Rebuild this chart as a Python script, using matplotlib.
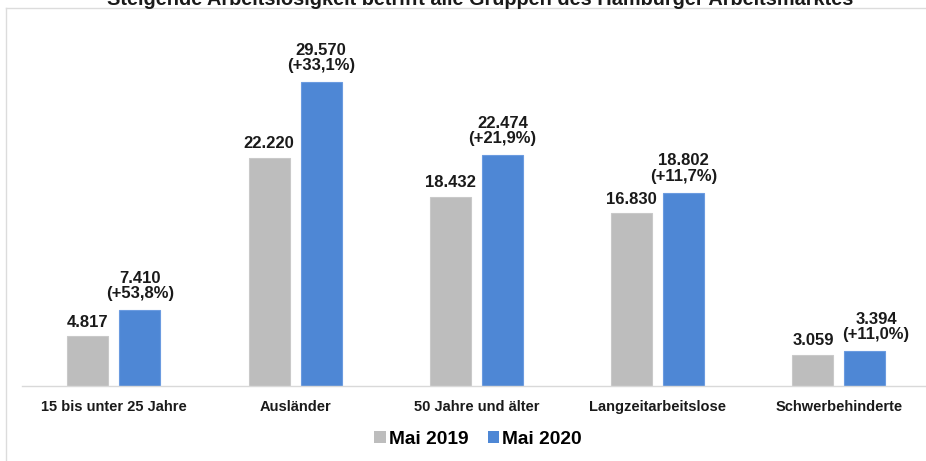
import matplotlib
matplotlib.use("Agg")
import matplotlib.pyplot as plt
from matplotlib.lines import Line2D
import numpy as np

plt.rcParams['font.family'] = ['Liberation Sans', 'DejaVu Sans']
plt.rcParams['font.weight'] = 'bold'

title = "Steigende Arbeitslosigkeit betrifft alle Gruppen des Hamburger Arbeitsmarktes"
categories = ["15 bis unter 25 Jahre", "Ausländer", "50 Jahre und älter",
              "Langzeitarbeitslose", "Schwerbehinderte"]
series_names = ["Mai 2019", "Mai 2020"]
values_2019 = [4817, 22220, 18432, 16830, 3059]
values_2020 = [7410, 29570, 22474, 18802, 3394]
change_pct = ["+53,8%", "+33,1%", "+21,9%", "+11,7%", "+11,0%"]

def de_num(v):
    return f"{v:,}".replace(",", ".")

W, H = 926, 461
fig = plt.figure(figsize=(W / 100, H / 100), dpi=100)
fig.patch.set_facecolor("white")

ax_left, ax_right, ax_bottom, ax_top = 22, 926, 386, 20
ax = fig.add_axes([ax_left / W, 1 - ax_bottom / H,
                   (ax_right - ax_left) / W, (ax_bottom - ax_top) / H])

gray = "#bdbdbd"
blue = "#4e87d5"
x = np.arange(len(categories))
off = 0.1434
bw = 0.226
b1 = ax.bar(x - off, values_2019, width=bw, color=gray, edgecolor="#c9c9c9",
            linewidth=0.8, label=series_names[0], zorder=2)
b2 = ax.bar(x + off, values_2020, width=bw, color=blue, edgecolor="#6b9be0",
            linewidth=0.8, label=series_names[1], zorder=2)

ax.set_xlim(-0.506, 4.48)
ax.set_ylim(0, 35600)

for xi, v in zip(x, values_2019):
    ax.annotate(de_num(v), (xi - off, v), xytext=(0, 4.6), textcoords="offset points",
                ha="center", va="bottom", fontsize=12, fontweight="bold", color="#1a1a1a")
# last label is nudged to the right in the reference to avoid overlap
nudge = [0, 0, 0, 0, 8]
for xi, v, p, dx in zip(x, values_2020, change_pct, nudge):
    ax.annotate(f"{de_num(v)}\n({p})", (xi + off, v), xytext=(dx, 6.2),
                textcoords="offset points", ha="center", va="bottom",
                fontsize=12, fontweight="bold", color="#1a1a1a", linespacing=1.05)

for s in ["top", "right", "left"]:
    ax.spines[s].set_visible(False)
ax.spines["bottom"].set_color("#d9d9d9")
ax.spines["bottom"].set_linewidth(1.0)
ax.set_yticks([])
ax.set_xticks(x)
ax.set_xticklabels(categories, fontsize=10.5, fontweight="bold", color="#1a1a1a")
ax.tick_params(axis="x", length=0, pad=10)

leg = fig.legend(handles=[b1, b2], labels=series_names, loc="center",
                 bbox_to_anchor=(478 / W, 1 - 439 / H), ncol=2, frameon=False,
                 prop={"weight": "bold", "size": 13.8},
                 handlelength=0.62, handleheight=0.62, handletextpad=0.15,
                 columnspacing=1.0, borderaxespad=0, borderpad=0)
for h in leg.legend_handles:
    h.set_edgecolor("none")

# outer frame (light grey)
fig.add_artist(Line2D([6 / W, 6 / W], [0, 1 - 8 / H], transform=fig.transFigure,
                      color="#dcdcdc", lw=1.0))
fig.add_artist(Line2D([6 / W, 1], [1 - 8 / H, 1 - 8 / H], transform=fig.transFigure,
                      color="#dcdcdc", lw=1.0))

# title, cut off at the top edge as in the reference
fig.text(480 / W, 1 - 5 / H, title, ha="center", va="baseline",
         fontsize=14.3, fontweight="bold", color="#1a1a1a")

fig.savefig("out.png", dpi=100, facecolor="white")
